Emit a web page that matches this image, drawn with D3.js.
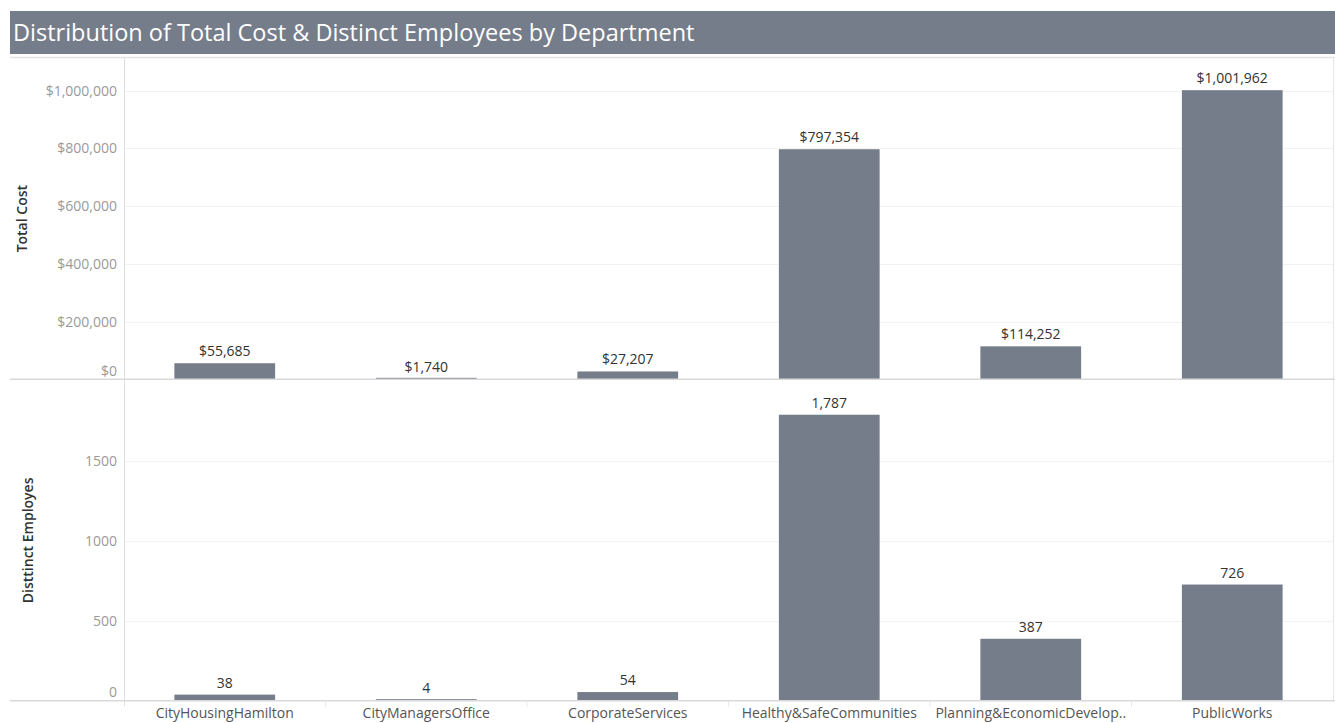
<!DOCTYPE html>
<html><head><meta charset="utf-8">
<script src="https://cdn.jsdelivr.net/npm/d3@7"></script>
<style>
html,body{margin:0;padding:0;background:#fff;}
svg{display:block;font-family:"Open Sans","Noto Sans",sans-serif;}
</style></head>
<body>
<svg id="chart" width="1335" height="723"></svg>
<script>
const title = "Distribution of Total Cost & Distinct Employees by Department";
const departments = ["CityHousingHamilton","CityManagersOffice","CorporateServices","Healthy&SafeCommunities","Planning&EconomicDevelop..","PublicWorks"];
const totalCost = [55685, 1740, 27207, 797354, 114252, 1001962];
const distinctEmployees = [38, 4, 54, 1787, 387, 726];
const costTicks = [0, 200000, 400000, 600000, 800000, 1000000];
const empTicks = [0, 500, 1000, 1500];
const costAxisTitle = "Total Cost";
const empAxisTitle = "Disttinct Employes";

const W = 1335, H = 723;
const svg = d3.select("#chart");
const barColor = "#767d8a";

// title bar
svg.append("rect").attr("x", 10).attr("y", 11).attr("width", W - 10).attr("height", 43).attr("fill", "#767d8a");
svg.append("text").attr("x", 13).attr("y", 41).attr("fill", "#fff")
  .attr("font-size", 23.5).attr("font-family", "'Open Sans',sans-serif").text(title);
svg.append("line").attr("x1", 10).attr("x2", W).attr("y1", 57.5).attr("y2", 57.5)
  .attr("stroke", "#e3e3e3").attr("stroke-width", 1.5);

const left = 124, right = 1333;
const x = d3.scaleBand().domain(departments).range([left, right]).paddingInner(0.5).paddingOuter(0.25);

const yCost = d3.scaleLinear().domain([0, 1113500]).range([379.3, 58]);
const yEmp = d3.scaleLinear().domain([0, 2004]).range([700.7, 380]);

// right border
svg.append("line").attr("x1", right + 0.5).attr("x2", right + 0.5).attr("y1", 58).attr("y2", 701)
  .attr("stroke", "#e6e6e6");

function panel(y, ticks, fmt, values, labelFmt, axisTitle, titleX) {
  const g = svg.append("g");
  // gridlines
  g.selectAll(".grid").data(ticks.filter(t => t > 0)).join("line")
    .attr("x1", left).attr("x2", right)
    .attr("y1", d => Math.round(y(d)) + 0.5).attr("y2", d => Math.round(y(d)) + 0.5)
    .attr("stroke", "#f2f2f2");
  // axis with labels
  const ax = g.append("g").attr("transform", `translate(${left},0)`)
    .call(d3.axisLeft(y).tickValues(ticks).tickFormat(fmt).tickSize(0).tickPadding(7));
  ax.select(".domain").remove();
  ax.selectAll("text").attr("fill", "#9a9a9a").attr("font-size", 14)
    .attr("font-family", "'Open Sans',sans-serif");
  ax.selectAll(".tick").filter(d => d === 0).select("text").attr("dy", "-0.3em");
  // bars
  g.selectAll(".bar").data(departments).join("rect")
    .attr("x", d => x(d)).attr("width", x.bandwidth())
    .attr("y", (d, i) => Math.min(y(values[i]), y(0) - 1.5))
    .attr("height", (d, i) => Math.max(y(0) - y(values[i]), 1.5))
    .attr("fill", barColor);
  // value labels
  g.selectAll(".lbl").data(departments).join("text")
    .attr("x", d => x(d) + x.bandwidth() / 2)
    .attr("y", (d, i) => y(values[i]) - 7)
    .attr("text-anchor", "middle").attr("fill", "#333").attr("font-size", 14)
    .text((d, i) => labelFmt(values[i]));
  // axis title
  const [r0, r1] = y.range();
  svg.append("text")
    .attr("transform", `translate(${titleX},${(r0 + r1) / 2}) rotate(-90)`)
    .attr("text-anchor", "middle").attr("fill", "#333").attr("font-size", 14)
    .attr("font-weight", 600).text(axisTitle);
  // baseline
  svg.append("line").attr("x1", 10).attr("x2", W).attr("y1", y(0)).attr("y2", y(0))
    .attr("stroke", "#d9d9d9").attr("stroke-width", 1.5);
}

panel(yCost, costTicks, d => "$" + d3.format(",")(d), totalCost, d => "$" + d3.format(",")(d), costAxisTitle, 27);
panel(yEmp, empTicks, d => String(d), distinctEmployees, d => d3.format(",")(d), empAxisTitle, 33);

// vertical axis line
svg.append("line").attr("x1", left + 0.5).attr("x2", left + 0.5).attr("y1", 58).attr("y2", 706)
  .attr("stroke", "#dedede");

// category separators
const step = x.step();
svg.selectAll(".sep").data(departments.slice(1)).join("line")
  .attr("x1", d => x(d) - (step - x.bandwidth()) / 2)
  .attr("x2", d => x(d) - (step - x.bandwidth()) / 2)
  .attr("y1", 701).attr("y2", 707).attr("stroke", "#eaeaea");

// category labels
const xa = svg.append("g").attr("transform", "translate(0,701)")
  .call(d3.axisBottom(x).tickSize(0).tickPadding(7));
xa.select(".domain").remove();
xa.selectAll("text").attr("fill", "#555").attr("font-size", 14)
  .attr("font-family", "'Open Sans',sans-serif");
</script>
</body></html>
